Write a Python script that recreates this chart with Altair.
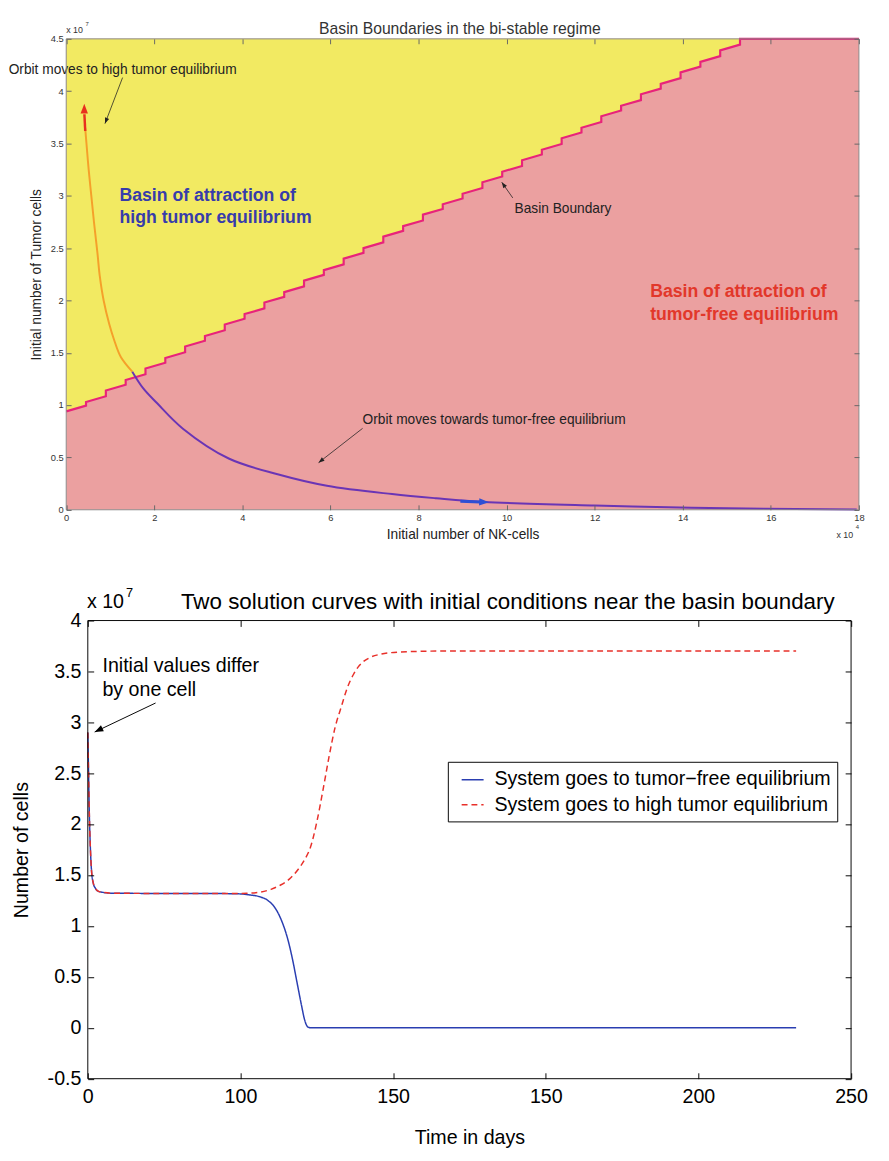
import altair as alt
import pandas as pd

FONT = "Liberation Sans"
K = 1.0204  # page-to-picture compensation factor for every pixel size

# ---------------- top panel data (x: 1e4 NK cells, y: 1e7 tumor cells) ----------------
top_title = "Basin Boundaries in the bi-stable regime"
top_x_ticks = [0, 2, 4, 6, 8, 10, 12, 14, 16, 18]
top_y_ticks = [0, 0.5, 1, 1.5, 2, 2.5, 3, 3.5, 4, 4.5]
top_x_domain = [0, 18]
top_y_domain = [0, 4.5]

# staircase basin boundary: step positions, value just before each jump and just after it
boundary_step_x = [0, 0.45, 0.9, 1.35, 1.8, 2.25, 2.7, 3.15, 3.6, 4.05, 4.5, 4.95, 5.4, 5.85,
                   6.3, 6.75, 7.2, 7.65, 8.1, 8.55, 9.0, 9.45, 9.9, 10.35, 10.8, 11.25, 11.7,
                   12.15, 12.6, 13.05, 13.5, 13.95, 14.4, 14.85, 15.3]
boundary_low = [0.94, 0.995, 1.085, 1.195, 1.295, 1.405, 1.505, 1.615, 1.715, 1.825, 1.925, 2.035,
                2.135, 2.245, 2.345, 2.455, 2.555, 2.665, 2.765, 2.875, 2.975, 3.075, 3.185, 3.285,
                3.395, 3.495, 3.605, 3.705, 3.815, 3.915, 4.025, 4.125, 4.235, 4.335, 4.445]
boundary_high = [0.94, 1.03, 1.14, 1.24, 1.35, 1.45, 1.56, 1.66, 1.77, 1.87, 1.98, 2.08, 2.19,
                 2.29, 2.40, 2.50, 2.61, 2.71, 2.82, 2.92, 3.02, 3.13, 3.23, 3.34, 3.44, 3.55,
                 3.65, 3.76, 3.86, 3.97, 4.07, 4.18, 4.28, 4.39, 4.5]
boundary_end_x = 18.0

orbit_high_x = [1.5, 1.24, 1.09, 0.98, 0.85, 0.76, 0.71, 0.63, 0.57, 0.51, 0.46, 0.43]
orbit_high_y = [1.32, 1.46, 1.62, 1.77, 2.0, 2.24, 2.45, 2.75, 3.0, 3.25, 3.5, 3.65]
orbit_free_x = [1.5, 1.75, 2.06, 2.65, 3.69, 4.8, 5.92, 7.4, 8.4, 9.48, 12.0, 14.2, 17.95]
orbit_free_y = [1.32, 1.16, 1.02, 0.775, 0.49, 0.34, 0.23, 0.15, 0.11, 0.075, 0.04, 0.019, 0.003]

top_notes_text = [top_title, "Orbit moves to high tumor equilibrium", "Basin Boundary",
                  "Orbit moves towards tumor-free equilibrium", "x 10", "7", "x 10", "4"]
top_notes_x = [8.94, -1.307, 10.18, 6.73, 0.0, 0.44, 17.49, 17.93]
top_notes_y = [4.592, 4.199, 2.877, 0.853, 4.583, 4.639, -0.244, -0.17]
top_notes_role = ["title", "note", "note", "note", "exp", "sup", "exp", "sup"]

bold_text = ["Basin of attraction of", "high tumor equilibrium",
             "Basin of attraction of", "tumor-free equilibrium"]
bold_x = [1.21, 1.21, 13.26, 13.26]
bold_y = [3.008, 2.80, 2.09, 1.865]
bold_group = ["high", "high", "free", "free"]

top_arr_x0 = [1.28, 10.14, 6.73, 0.432, 8.95]
top_arr_y0 = [4.13, 2.98, 0.778, 3.62, 0.082]
top_arr_x1 = [0.88, 9.89, 5.73, 0.413, 9.40]
top_arr_y1 = [3.69, 3.13, 0.45, 3.78, 0.075]
top_head_x = [0.88, 9.89, 5.73, 0.41, 9.6]
top_head_y = [3.69, 3.13, 0.45, 3.88, 0.072]
top_head_ang = [201, 325, 232, 0, 92]
top_arr_kind = ["note", "note", "note", "high", "free"]

# ---------------- bottom panel data (y: 1e7 cells) ----------------
bottom_title = "Two solution curves with initial conditions near the basin boundary"
bottom_x_ticks = [0, 50, 100, 150, 200, 250]
bottom_x_labels = ["0", "100", "150", "150", "200", "250"]
bottom_y_ticks = [-0.5, 0, 0.5, 1, 1.5, 2, 2.5, 3, 3.5, 4]
bottom_x_domain = [0, 250]
bottom_y_domain = [-0.5, 4]
series_names = ["System goes to tumor\u2212free equilibrium", "System goes to high tumor equilibrium"]

free_t = [0, 0.25, 0.5, 0.8, 1.2, 1.8, 2.5, 3.5, 5, 8, 20, 35, 45, 50, 53, 56, 59, 61.5, 63.5,
          65.5, 67, 68.5, 70, 71, 72, 73, 80, 120, 180, 232]
free_n = [2.9, 2.5, 2.1, 1.8, 1.55, 1.42, 1.37, 1.34, 1.33, 1.322, 1.32, 1.32, 1.318, 1.315,
          1.305, 1.29, 1.25, 1.17, 1.05, 0.87, 0.68, 0.45, 0.22, 0.08, 0.01, 0, 0, 0, 0, 0]
high_t = [0, 0.25, 0.5, 0.8, 1.2, 1.8, 2.5, 3.5, 5, 8, 20, 35, 45, 50, 53, 56, 60, 63, 66, 69,
          71, 73, 75, 77, 79, 81, 83, 85, 87, 89, 92, 96, 102, 115, 150, 200, 232]
high_n = [2.9, 2.5, 2.1, 1.8, 1.55, 1.42, 1.37, 1.34, 1.33, 1.322, 1.32, 1.32, 1.32, 1.32,
          1.322, 1.33, 1.36, 1.40, 1.46, 1.56, 1.65, 1.78, 2.02, 2.33, 2.66, 2.95, 3.15, 3.34,
          3.47, 3.56, 3.63, 3.67, 3.69, 3.70, 3.70, 3.70, 3.70]

bn_text = [bottom_title, "Initial values differ", "by one cell", "x 10", "7"]
bn_x = [30.5, 4.8, 4.8, -0.3, 12.5]
bn_y = [4.181, 3.555, 3.315, 4.18, 4.27]
bn_role = ["title", "note", "note", "note", "sup"]
b_arr_x0, b_arr_y0, b_arr_x1, b_arr_y1 = [22.2], [3.19], [2.25], [2.905]
b_head_ang = [244]

# ---------------- styles (kept apart from the data) ----------------
ARROW = "M0,0L0.6,1.6L-0.6,1.6Z"
top_font = {"title": 16 * K, "note": 14 * K, "exp": 9 * K, "sup": 6 * K}
top_color = {"title": "#333333", "note": "#222222", "exp": "#333333", "sup": "#333333"}
bold_colors = {"high": "#373cab", "free": "#e2372a"}
arr_color = {"note": "#222222", "high": "#e8301e", "free": "#2e4fd4"}
arr_width = {"note": 0.8, "high": 2.5 * K, "free": 3.0 * K}
head_size = {"note": 56 * K * K, "high": 156 * K * K, "free": 156 * K * K}
bottom_font = {"title": 22.8 * K, "note": 20 * K, "sup": 13 * K}

# ======================= TOP CHART =======================
TOP_W, TOP_H, SHIFT = 786 * K, 480 * K, 22 * K
xs_t = alt.Scale(domain=top_x_domain, range=[-SHIFT, TOP_W], nice=False, zero=False)
ys_t = alt.Scale(domain=top_y_domain, nice=False, zero=False)

tick_common_t = dict(domain=False, grid=False, tickSize=5 * K, tickColor="#666666",
                     labelFontSize=9.5 * K, labelColor="#333333", titleFontSize=14 * K,
                     titleFontWeight="normal", titleColor="#222222", zindex=1,
                     labelFlush=False, labelOverlap=False)

ax_t_bottom = alt.Axis(values=top_x_ticks, labelExpr="'' + datum.value", title="Initial number of NK-cells",
                       offset=-5 * K, labelPadding=3 * K, titlePadding=6 * K, **tick_common_t)
ax_t_left = alt.Axis(values=top_y_ticks, labelExpr="'' + datum.value", title="Initial number of Tumor cells",
                     offset=SHIFT - 5 * K, labelPadding=3 * K, titlePadding=7 * K, **tick_common_t)
ax_t_top = alt.Axis(values=top_x_ticks, orient="top", labels=False, title=None, offset=-5 * K,
                    minExtent=1, maxExtent=6, **tick_common_t)
ax_t_right = alt.Axis(values=top_y_ticks, orient="right", labels=False, title=None, offset=-5 * K,
                      minExtent=1, maxExtent=6, **tick_common_t)


def TX(f, axis=None):
    return alt.X(f, type="quantitative", scale=xs_t, axis=axis)


def TY(f, axis=None):
    return alt.Y(f, type="quantitative", scale=ys_t, axis=axis)


frame_t = pd.DataFrame({"x0": [top_x_domain[0]], "x1": [top_x_domain[1]],
                        "y0": [top_y_domain[0]], "y1": [top_y_domain[1]]})

# build the staircase path: slanted run to each step, then the jump
bx, by = [boundary_step_x[0]], [boundary_high[0]]
for k in range(1, len(boundary_step_x)):
    bx += [boundary_step_x[k], boundary_step_x[k]]
    by += [boundary_low[k], boundary_high[k]]
bx.append(boundary_end_x)
by.append(boundary_high[-1])
bdf = pd.DataFrame({"bx": bx, "by": by, "i": list(range(len(bx)))})
bdf["ytop"] = top_y_domain[1]

ohdf = pd.DataFrame({"ox": orbit_high_x, "oy": orbit_high_y})
ofdf = pd.DataFrame({"ox": orbit_free_x, "oy": orbit_free_y})
tn = pd.DataFrame({"x": top_notes_x, "y": top_notes_y, "t": top_notes_text, "r": top_notes_role})
tn["s"] = tn["r"].map(top_font)
tn["c"] = tn["r"].map(top_color)
tb = pd.DataFrame({"x": bold_x, "y": bold_y, "t": bold_text, "g": bold_group})
tb["c"] = tb["g"].map(bold_colors)
ta = pd.DataFrame({"x0": top_arr_x0, "y0": top_arr_y0, "x1": top_arr_x1, "y1": top_arr_y1,
                   "k": top_arr_kind})
ta["c"] = ta["k"].map(arr_color)
ta["w"] = ta["k"].map(arr_width)
th = pd.DataFrame({"x": top_head_x, "y": top_head_y, "a": top_head_ang, "k": top_arr_kind})
th["c"] = th["k"].map(arr_color)
th["s"] = th["k"].map(head_size)

t_bg = alt.Chart(frame_t).mark_rect(color="#eba0a0").encode(
    x=TX("x0", ax_t_bottom), x2="x1", y=TY("y0", ax_t_left), y2="y1")
t_yellow = alt.Chart(bdf).mark_area(color="#f2ea62").encode(
    x=TX("bx"), y=TY("by"), y2="ytop")
t_bound = alt.Chart(bdf).mark_line(color="#e8237a", strokeWidth=2.2 * K).encode(
    x=TX("bx"), y=TY("by"), order=alt.Order("i:Q"))
t_orbit_h = alt.Chart(ohdf).mark_line(color="#f5a02a", strokeWidth=2 * K, interpolate="catmull-rom").encode(
    x=TX("ox"), y=TY("oy"))
t_orbit_f = alt.Chart(ofdf).mark_line(color="#6a35b5", strokeWidth=2 * K, interpolate="catmull-rom").encode(
    x=TX("ox"), y=TY("oy"))
t_arr = alt.Chart(ta).mark_rule().encode(
    x=TX("x0"), y=TY("y0"), x2="x1", y2="y1",
    stroke=alt.Stroke("c:N", scale=None), strokeWidth=alt.StrokeWidth("w:Q", scale=None))
t_head = alt.Chart(th).mark_point(shape=ARROW, filled=True, opacity=1, strokeWidth=0).encode(
    x=TX("x"), y=TY("y"), angle=alt.Angle("a:Q", scale=None),
    size=alt.Size("s:Q", scale=None), fill=alt.Fill("c:N", scale=None))
t_text_left = alt.Chart(tn[tn["r"] != "title"]).mark_text(align="left", baseline="middle").encode(
    x=TX("x"), y=TY("y"), text="t:N", size=alt.Size("s:Q", scale=None),
    fill=alt.Fill("c:N", scale=None))
t_text_center = alt.Chart(tn[tn["r"] == "title"]).mark_text(align="center", baseline="middle").encode(
    x=TX("x"), y=TY("y"), text="t:N", size=alt.Size("s:Q", scale=None),
    fill=alt.Fill("c:N", scale=None))
t_bold = alt.Chart(tb).mark_text(align="left", baseline="middle", fontWeight="bold", fontSize=18 * K).encode(
    x=TX("x"), y=TY("y"), text="t:N", fill=alt.Fill("c:N", scale=None))
t_frame = alt.Chart(frame_t).mark_rect(fillOpacity=0, stroke="#8a8a8a", strokeWidth=1).encode(
    x=TX("x0", ax_t_top), x2="x1", y=TY("y0", ax_t_right), y2="y1")

top = alt.layer(t_bg, t_yellow, t_bound, t_orbit_h, t_orbit_f, t_arr, t_head, t_text_left,
                t_text_center, t_bold, t_frame).resolve_axis(
    x="independent", y="independent").properties(width=TOP_W, height=TOP_H)

# ======================= BOTTOM CHART =======================
BW, BH = 778 * K, 467 * K
xs_b = alt.Scale(domain=bottom_x_domain, nice=False, zero=False)
ys_b = alt.Scale(domain=bottom_y_domain, nice=False, zero=False)

parts = [f"datum.value == {v} ? '{lab}'" for v, lab in zip(bottom_x_ticks, bottom_x_labels)]
x_label_expr = " : ".join(parts) + " : ''"

tick_common_b = dict(domain=False, grid=False, tickSize=6 * K, tickColor="black",
                     labelFontSize=20 * K, labelColor="black", titleFontSize=20 * K,
                     titleFontWeight="normal", titleColor="black", zindex=1,
                     labelFlush=False, labelOverlap=False)
ax_b_bottom = alt.Axis(values=bottom_x_ticks, labelExpr=x_label_expr, title="Time in days",
                       offset=-6 * K, labelPadding=9 * K, titlePadding=22, **tick_common_b)
ax_b_left = alt.Axis(values=bottom_y_ticks, labelExpr="'' + datum.value", title="Number of cells",
                     offset=-6 * K, labelPadding=7 * K, titlePadding=16 * K, **tick_common_b)
ax_b_top = alt.Axis(values=bottom_x_ticks, orient="top", labels=False, title=None, offset=-6 * K,
                    minExtent=1, maxExtent=7, **tick_common_b)
ax_b_right = alt.Axis(values=bottom_y_ticks, orient="right", labels=False, title=None, offset=-6 * K,
                      minExtent=1, maxExtent=7, **tick_common_b)


def BX(f, axis=None):
    return alt.X(f, type="quantitative", scale=xs_b, axis=axis)


def BY(f, axis=None):
    return alt.Y(f, type="quantitative", scale=ys_b, axis=axis)


lines = pd.concat([
    pd.DataFrame({"t": free_t, "n": free_n, "series": series_names[0]}),
    pd.DataFrame({"t": high_t, "n": high_n, "series": series_names[1]}),
], ignore_index=True)

leg = alt.Legend(orient="none", legendX=367 * K, legendY=144 * K, title=None, labelFontSize=20 * K,
                 labelColor="black", symbolType="stroke", symbolSize=500 * K * K,
                 symbolStrokeWidth=1.4 * K, strokeColor="black", fillColor="white",
                 padding=6 * K, rowPadding=3 * K, symbolOffset=7 * K, labelOffset=10 * K,
                 labelLimit=700, cornerRadius=0)

b_lines = alt.Chart(lines).mark_line(strokeWidth=1.5 * K, interpolate="monotone").encode(
    x=BX("t", ax_b_bottom), y=BY("n", ax_b_left),
    color=alt.Color("series:N", scale=alt.Scale(domain=series_names, range=["#2a3eb1", "#e8302a"]),
                    legend=leg),
    strokeDash=alt.StrokeDash("series:N", scale=alt.Scale(domain=series_names,
                                                          range=[[1, 0], [6 * K, 4 * K]]),
                              legend=leg))

bn = pd.DataFrame({"x": bn_x, "y": bn_y, "t": bn_text, "r": bn_role})
bn["s"] = bn["r"].map(bottom_font)
b_text = alt.Chart(bn).mark_text(align="left", baseline="middle", color="black").encode(
    x=BX("x"), y=BY("y"), text="t:N", size=alt.Size("s:Q", scale=None))
ba = pd.DataFrame({"x0": b_arr_x0, "y0": b_arr_y0, "x1": b_arr_x1, "y1": b_arr_y1, "a": b_head_ang})
b_arr = alt.Chart(ba).mark_rule(color="black", strokeWidth=1).encode(
    x=BX("x0"), y=BY("y0"), x2="x1", y2="y1")
b_head = alt.Chart(ba).mark_point(shape=ARROW, filled=True, opacity=1, strokeWidth=0, color="black",
                                  size=120 * K * K).encode(
    x=BX("x1"), y=BY("y1"), angle=alt.Angle("a:Q", scale=None))
frame_b = pd.DataFrame({"x0": [bottom_x_domain[0]], "x1": [bottom_x_domain[1]],
                        "y0": [bottom_y_domain[0]], "y1": [bottom_y_domain[1]]})
b_frame = alt.Chart(frame_b).mark_rect(fillOpacity=0, stroke="black", strokeWidth=1).encode(
    x=BX("x0", ax_b_top), x2="x1", y=BY("y0", ax_b_right), y2="y1")

bottom = alt.layer(b_lines, b_text, b_arr, b_head, b_frame).resolve_axis(
    x="independent", y="independent").properties(width=BW, height=BH)

chart = alt.vconcat(top, bottom, spacing=46).resolve_scale(
    color="independent", strokeDash="independent").resolve_legend(
    color="independent", strokeDash="independent").properties(
    padding={"left": 0, "right": 0, "top": -10 * K, "bottom": 0}
).configure(font=FONT).configure_view(strokeWidth=0)

chart.save("out.html", embed_options={"renderer": "svg", "actions": False})
